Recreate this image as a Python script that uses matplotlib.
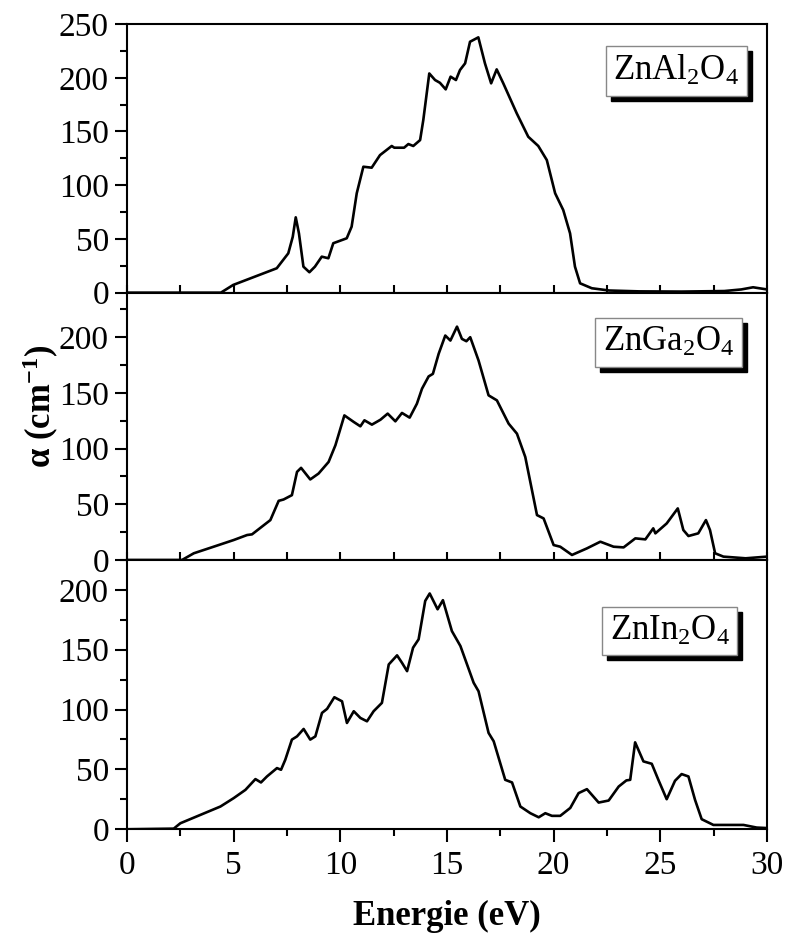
import matplotlib
matplotlib.use('Agg')
import matplotlib.pyplot as plt
from matplotlib.ticker import MultipleLocator
from matplotlib.patches import Rectangle

plt.rcParams['font.family'] = ['Liberation Serif', 'DejaVu Serif']
plt.rcParams['mathtext.fontset'] = 'custom'
plt.rcParams['mathtext.rm'] = 'Liberation Serif'
plt.rcParams['mathtext.it'] = 'Liberation Serif:italic'
plt.rcParams['mathtext.bf'] = 'Liberation Serif:bold'

# ==========================================
# DANE
# ==========================================
al_x = [0, 4.4, 4.98, 7.02, 7.56, 7.77, 7.91, 8.06, 8.27, 8.55, 8.81, 9.13, 9.44, 9.67,
        10.30, 10.53, 10.77, 11.08, 11.47, 11.86, 12.41, 12.53, 12.99, 13.19, 13.42,
        13.74, 13.89, 14.17, 14.44, 14.67, 14.94, 15.17, 15.42, 15.61, 15.85, 16.08,
        16.47, 16.78, 17.07, 17.33, 17.64, 18.27, 18.81, 19.28, 19.68, 20.07, 20.45,
        20.77, 21.0, 21.24, 21.79, 22.6, 24.0, 26.0, 28.0, 28.8, 29.35, 30.0]
al_y = [0, 0, 7.2, 22.7, 36.6, 52, 70.1, 55.2, 24.2, 19, 24.2, 33.5, 32, 46,
        50.6, 61.4, 92.5, 117.2, 116.3, 128, 136.5, 134.9, 134.9, 138.3, 136.5,
        142, 160.7, 204, 197.9, 195.3, 189.2, 201, 197.9, 207.2, 213.4, 233.5,
        237.6, 213.4, 194.8, 207.8, 194.8, 166.9, 145.1, 136.5, 123.4, 92.5, 76.9,
        55.2, 24.2, 8.7, 4.1, 2, 1.2, 1, 1.5, 3, 5, 3]

ga_x = [0, 2.58, 3.13, 4.06, 5.0, 5.63, 5.86, 6.72, 7.11, 7.34, 7.73, 7.97, 8.16, 8.59,
        8.98, 9.45, 9.77, 10.19, 10.63, 10.94, 11.13, 11.48, 11.88, 12.22, 12.58,
        12.89, 13.25, 13.59, 13.83, 14.14, 14.34, 14.61, 14.92, 15.16, 15.47, 15.70,
        15.91, 16.09, 16.48, 16.95, 17.34, 17.89, 18.28, 18.67, 19.22, 19.53, 20.0,
        20.31, 20.86, 21.56, 22.19, 22.81, 23.28, 23.83, 24.3, 24.67, 24.77, 25.30,
        25.82, 26.08, 26.32, 26.78, 27.14, 27.33, 27.57, 27.96, 29.0, 30.0]
ga_y = [0, 0, 6, 11.9, 17.9, 22.4, 23, 35.8, 53.1, 54.3, 58.2, 79.1, 82.7, 72.3,
        77.6, 88, 103, 129.8, 123.9, 120, 125.4, 121.5, 125.9, 131.4, 124.5,
        132, 127.8, 140.3, 153.8, 164.8, 167.1, 185.1, 201.5, 197, 209.5, 198.5,
        196.4, 200, 179.1, 147.8, 143.3, 122.4, 113.4, 92.5, 40.3, 37.3, 13.4,
        11.9, 4.5, 10.4, 16.4, 11.9, 11.3, 19.4, 18.5, 28.4, 23.9, 32.8,
        46.3, 26.9, 21.5, 23.9, 35.8, 26.9, 6, 3, 1.5, 3]

in_x = [0, 2.19, 2.5, 3.44, 4.38, 5.0, 5.55, 6.02, 6.28, 6.56, 7.03, 7.22, 7.42, 7.73,
        7.97, 8.28, 8.59, 8.83, 9.14, 9.38, 9.72, 10.08, 10.31, 10.63, 10.94, 11.25,
        11.56, 11.95, 12.27, 12.66, 12.89, 13.13, 13.41, 13.67, 13.98, 14.19, 14.56,
        14.81, 15.23, 15.63, 16.25, 16.48, 16.95, 17.19, 17.73, 18.05, 18.44, 18.91,
        19.3, 19.61, 19.92, 20.31, 20.78, 21.17, 21.56, 22.11, 22.58, 23.05, 23.41,
        23.59, 23.82, 24.21, 24.6, 24.91, 25.30, 25.69, 26.0, 26.32, 26.63, 26.94,
        27.49, 28.9, 29.52, 30.0]
in_y = [0, 0.5, 5, 12, 19, 26, 32.9, 41.9, 39.1, 44.1, 51.1, 49.7, 58.1, 74.9,
        77.6, 83.8, 74.9, 77.6, 97.2, 100.6, 110.3, 106.9, 88.8, 98.6, 93, 90.2,
        98.6, 105.6, 137.7, 145.3, 139.1, 132.1, 151.7, 158.7, 190.8, 197, 183.8,
        191.4, 165.6, 153.1, 122.4, 115.3, 80.5, 73.5, 41.3, 39.1, 19, 13.4,
        10, 13.4, 11.2, 11.2, 17.8, 30.2, 33.5, 22.3, 24, 35.7, 40.8,
        41.3, 72.6, 56.7, 54.7, 41.3, 25.1, 40.5, 46.1, 44.1, 24.5, 8.4,
        3.6, 3.6, 1.4, 1]

etykiety = [r'ZnAl$_2$O$_4$', r'ZnGa$_2$O$_4$', r'ZnIn$_2$O$_4$']
y_max = [250, 240, 225]
y_labels_top = [250, 200, 200]
pozycje_etykiet = [(0.858, 0.825), (0.846, 0.814), (0.848, 0.736)]

# ==========================================
# RYSOWANIE
# ==========================================
fig = plt.figure(figsize=(7.85, 9.35), dpi=100)
left, right = 0.1618, 0.977
granice = [(0.687, 0.9743), (0.4011, 0.687), (0.1131, 0.4011)]
serie = [(al_x, al_y), (ga_x, ga_y), (in_x, in_y)]

axes = []
teksty = []
for i, ((b, t), (xs, ys)) in enumerate(zip(granice, serie)):
    ax = fig.add_axes([left, b, right - left, t - b])
    ax.plot(xs, ys, color='black', linewidth=1.9)
    ax.set_xlim(0, 30)
    ax.set_ylim(0, y_max[i])
    ax.yaxis.set_major_locator(MultipleLocator(50))
    ax.yaxis.set_minor_locator(MultipleLocator(25))
    ax.xaxis.set_major_locator(MultipleLocator(5))
    ax.xaxis.set_minor_locator(MultipleLocator(2.5))
    for s in ax.spines.values():
        s.set_linewidth(1.5)
    ax.tick_params(axis='y', which='major', direction='out', length=9, width=1.5,
                   labelsize=24, pad=4, right=False)
    ax.tick_params(axis='y', which='minor', direction='out', length=5, width=1.5,
                   right=False)
    if i < 2:
        ax.tick_params(axis='x', which='both', direction='in', length=6, width=1.5,
                       labelbottom=False, top=False)
    else:
        ax.tick_params(axis='x', which='major', direction='out', length=9, width=1.5,
                       labelsize=24, pad=6, top=False)
        ax.tick_params(axis='x', which='minor', direction='out', length=5, width=1.5,
                       top=False)
    ax.set_yticks([v for v in range(0, y_labels_top[i] + 1, 50)])

    px, py = pozycje_etykiet[i]
    txt = ax.text(px, py, etykiety[i], transform=ax.transAxes, fontsize=25,
                  color='black', ha='center', va='center', zorder=10,
                  bbox=dict(boxstyle='square,pad=0.22', fc='white', ec='#888888', lw=1))
    axes.append(ax)
    teksty.append(txt)

axes[2].set_xlabel('Energie (eV)', fontsize=25, fontweight='bold', labelpad=14)
fig.text(0.052, 0.565, r'α (cm$^{\mathbf{-1}}$)', rotation=90, fontsize=25,
         fontweight='bold', ha='center', va='center')

# cien pod ramka etykiety (w ukladzie osi, pod tekstem)
fig.canvas.draw()
for ax, txt in zip(axes, teksty):
    bb = txt.get_bbox_patch().get_window_extent()
    inv = ax.transAxes.inverted()
    (x0, y0), (x1, y1) = inv.transform([[bb.x0 + 5, bb.y0 - 5], [bb.x1 + 5, bb.y1 - 5]])
    ax.add_patch(Rectangle((x0, y0), x1 - x0, y1 - y0, transform=ax.transAxes,
                           fc='black', ec='black', zorder=4, clip_on=False))

fig.savefig('out.png', dpi=100)
